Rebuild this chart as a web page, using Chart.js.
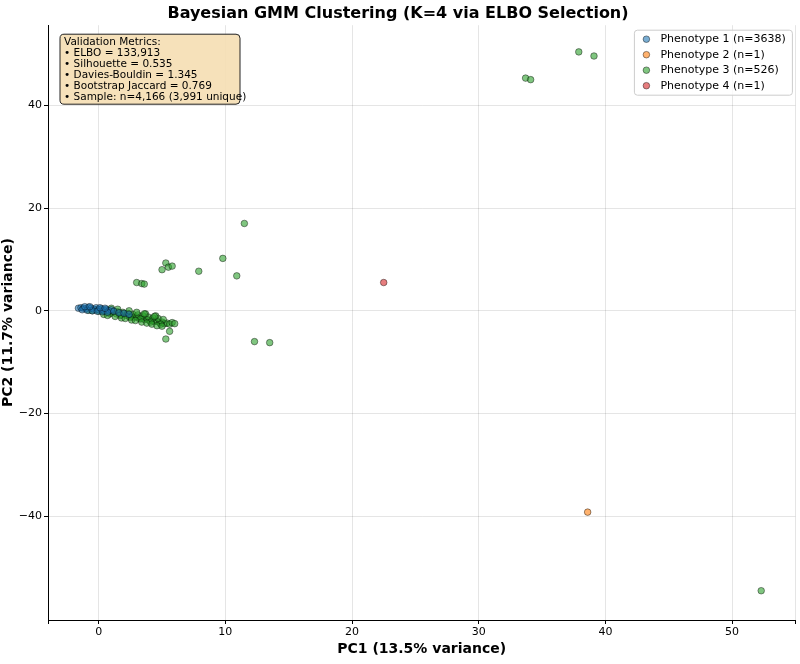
<!DOCTYPE html>
<html>
<head>
<script src="https://cdn.jsdelivr.net/npm/chart.js@4"></script>
<style>body{margin:0;background:#fff}#wrap{width:800px;height:664px}</style>
</head>
<body>
<div id="wrap"><canvas id="c"></canvas></div>
<script>
const labels = ['Phenotype 1 (n=3638)', 'Phenotype 2 (n=1)', 'Phenotype 3 (n=526)', 'Phenotype 4 (n=1)'];
const p1x = [-1.6,-1.4,-1.2,-1.0,-0.8,-0.6,-0.4,-0.2,0.0,0.2,0.4,0.6,0.8,1.0,-1.3,-0.9,-0.5,-0.1,0.3,0.7,1.2,1.6,2.0,2.4,-1.1,-0.7,0.1,0.5];
const p1y = [0.5,0.6,0.5,0.4,0.7,0.5,0.3,0.6,0.2,0.4,0.1,0.3,0.0,0.2,0.2,0.1,0.0,-0.1,-0.2,-0.3,-0.1,-0.4,-0.5,-0.7,0.8,0.8,0.6,0.5];
const p2x = [38.6];
const p2y = [-39.2];
const p3x = [-0.8,-0.5,-0.2,0.0,0.3,0.5,0.8,1.0,1.2,1.4,1.6,1.8,2.0,2.2,2.4,2.6,2.8,3.0,3.2,3.4,3.6,3.8,4.0,4.2,4.4,4.6,4.8,5.0,5.2,5.4,5.6,0.2,0.6,1.1,1.5,1.9,2.3,2.7,3.1,3.5,3.9,4.3,4.7,5.1,0.9,1.7,2.5,3.3,4.1,4.9,3.7,4.5,5.8,6.0,5.3,5.6,
  0.4,0.7,1.3,1.8,2.1,2.6,2.9,3.4,3.8,4.2,4.6,5.0,1.0,1.5,2.4,3.0,3.6,4.4,
  33.7,34.1,37.9,39.1,11.5,9.8,10.9,7.9,5.3,5.0,5.5,5.8,3.0,3.4,3.6,12.3,13.5,52.3];
const p3y = [0.1,0.0,0.2,-0.1,0.0,-0.2,-0.1,-0.4,-0.2,-0.6,-0.4,-0.8,-0.6,-0.9,-1.1,-1.0,-1.3,-1.2,-1.5,-1.4,-1.7,-1.6,-1.9,-1.8,-2.1,-2.0,-2.3,-2.2,-2.5,-2.4,-2.6,0.3,0.1,-0.1,-0.2,-0.3,-0.5,-0.7,-0.8,-1.0,-1.2,-1.4,-1.5,-1.7,-0.6,-0.9,-1.3,-1.6,-2.2,-2.6,-0.6,-1.0,-2.3,-2.5,-5.5,-4.0,
  -0.7,-0.9,-1.1,-1.4,-1.5,-1.8,-1.9,-2.2,-2.4,-2.6,-2.9,-3.0,0.5,0.3,0.0,-0.3,-0.6,-1.1,
  45.3,45.0,50.4,49.6,17.0,10.2,6.8,7.7,9.3,8.0,8.5,8.7,5.5,5.3,5.2,-6.0,-6.2,-54.5];
const p4x = [22.5];
const p4y = [5.5];

const colors = ['rgba(31,119,180,0.6)', 'rgba(255,127,14,0.6)', 'rgba(44,160,44,0.6)', 'rgba(214,39,40,0.6)'];
const xs = [p1x, p2x, p3x, p4x], ys = [p1y, p2y, p3y, p4y];
const metrics = ['Validation Metrics:', '• ELBO = 133,913', '• Silhouette = 0.535', '• Davies-Bouldin = 1.345', '• Bootstrap Jaccard = 0.769', '• Sample: n=4,166 (3,991 unique)'];

const datasets = labels.map((l, i) => ({
  label: l,
  data: xs[i].map((x, j) => ({x: x, y: ys[i][j]})),
  backgroundColor: colors[i],
  borderColor: 'rgba(0,0,0,0.7)',
  borderWidth: 0.6,
  pointRadius: 3.3
}));

const boxes = {
  id: 'boxes',
  afterDraw(chart) {
    const ctx = chart.ctx, a = chart.chartArea;
    ctx.save();
    // metrics box
    ctx.font = '10.5px "DejaVu Sans"';
    let x = a.left + 12, y = a.top + 9, w = 180, h = 70;
    ctx.fillStyle = 'rgba(245,222,179,0.9)';
    ctx.strokeStyle = '#222';
    ctx.lineWidth = 1;
    ctx.beginPath(); ctx.roundRect(x, y, w, h, 4); ctx.fill(); ctx.stroke();
    ctx.fillStyle = '#000'; ctx.textBaseline = 'top';
    metrics.forEach((t, i) => ctx.fillText(t, x + 4, y + 3 + i * 10.9));
    // legend
    ctx.font = '11px "DejaVu Sans"';
    w = 158; h = 65; x = a.right - w - 3; y = a.top + 5;
    ctx.fillStyle = 'rgba(255,255,255,0.8)';
    ctx.strokeStyle = '#ccc';
    ctx.beginPath(); ctx.roundRect(x, y, w, h, 3); ctx.fill(); ctx.stroke();
    ctx.textBaseline = 'middle';
    labels.forEach((l, i) => {
      const cy = y + 9 + i * 15.5;
      ctx.beginPath(); ctx.arc(x + 12, cy, 3.3, 0, Math.PI * 2);
      ctx.fillStyle = colors[i]; ctx.fill();
      ctx.strokeStyle = 'rgba(0,0,0,0.7)'; ctx.lineWidth = 0.6; ctx.stroke();
      ctx.fillStyle = '#000'; ctx.fillText(l, x + 26, cy);
    });
    ctx.restore();
  }
};

new Chart(document.getElementById('c'), {
  type: 'scatter',
  data: { datasets },
  options: {
    responsive: true, maintainAspectRatio: false, animation: false,
    layout: { padding: { left: 0, right: 4, top: 2, bottom: 6 } },
    plugins: {
      title: { display: true, text: 'Bayesian GMM Clustering (K=4 via ELBO Selection)', color: '#000', font: { family: 'DejaVu Sans', size: 16, weight: 'bold' }, padding: { top: 2, bottom: 2 } },
      legend: { display: false },
      tooltip: { enabled: false }
    },
    scales: {
      x: { min: -4, max: 55, border: { color: '#000' },
        title: { display: true, text: 'PC1 (13.5% variance)', color: '#000', font: { family: 'DejaVu Sans', size: 14, weight: 'bold' }, padding: 0 },
        ticks: { stepSize: 10, color: '#000', font: { family: 'DejaVu Sans', size: 11 }, padding: 2, callback: v => v % 10 === 0 ? v : '' },
        grid: { color: 'rgba(0,0,0,0.1)', tickColor: '#000', tickLength: 4 } },
      y: { min: -60.2, max: 55.6, border: { color: '#000' },
        afterBuildTicks: s => { s.ticks = [-40, -20, 0, 20, 40].map(v => ({value: v})); },
        title: { display: true, text: 'PC2 (11.7% variance)', color: '#000', font: { family: 'DejaVu Sans', size: 14, weight: 'bold' }, padding: 0 },
        ticks: { color: '#000', font: { family: 'DejaVu Sans', size: 11 }, padding: 2, callback: v => v === 0 ? '0' : String(v).replace('-', '−') },
        grid: { color: 'rgba(0,0,0,0.1)', tickColor: '#000', tickLength: 4 } }
    }
  },
  plugins: [boxes]
});
</script>
</body>
</html>
